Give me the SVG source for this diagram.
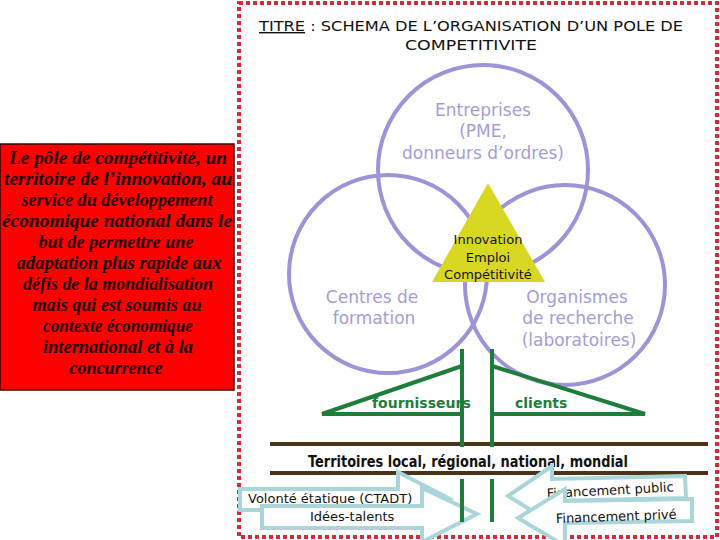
<svg xmlns="http://www.w3.org/2000/svg" width="720" height="540" viewBox="0 0 720 540">
<defs>
<style>
.ring{fill:none;stroke:#9d93d6;stroke-width:4}
.lav{font-family:"DejaVu Sans","Liberation Sans",sans-serif;font-size:17px;fill:#a39dd6;text-anchor:middle}
.tri{font-family:"DejaVu Sans","Liberation Sans",sans-serif;font-size:13px;fill:#111;text-anchor:middle}
.grn{stroke:#1f7d3c;stroke-width:4;fill:none}
.gtxt{font-family:"DejaVu Sans","Liberation Sans",sans-serif;font-size:14px;font-weight:bold;fill:#1f7d3c}
.brn{stroke:#4a3419;stroke-width:4}
.arr{fill:#fff;stroke:#aad6da;stroke-width:4;stroke-linejoin:miter}
.atxt{font-family:"DejaVu Sans","Liberation Sans",sans-serif;font-size:13px;fill:#111}
.red{font-family:"Liberation Serif","Times New Roman",serif;font-size:19px;font-weight:bold;font-style:italic;fill:#1a0000;text-anchor:middle}
</style>
</defs>
<rect width="720" height="540" fill="#fff"/>

<g id="frame">
<rect x="239" y="3" width="478" height="534" fill="none" stroke="#d42a3a" stroke-width="4" stroke-dasharray="4 3"/>
</g>

<g id="title">
<text x="259" y="31" font-family="DejaVu Sans, Liberation Sans, sans-serif" font-size="14" fill="#111" textLength="424" lengthAdjust="spacingAndGlyphs"><tspan text-decoration="underline">TITRE</tspan> : SCHEMA DE L’ORGANISATION D’UN POLE DE</text>
<text x="471" y="50" font-family="DejaVu Sans, Liberation Sans, sans-serif" font-size="14" fill="#111" text-anchor="middle" textLength="132" lengthAdjust="spacingAndGlyphs">COMPETITIVITE</text>
</g>

<g id="definition">
<rect x="0" y="144" width="234" height="246" fill="#ff0000" stroke="#3a0000" stroke-width="1.5"/>
<text class="red" x="118" y="164" textLength="218" lengthAdjust="spacingAndGlyphs">Le pôle de compétitivité, un</text>
<text class="red" x="118" y="185" textLength="228" lengthAdjust="spacingAndGlyphs">territoire de l’innovation, au</text>
<text class="red" x="117" y="206" textLength="191" lengthAdjust="spacingAndGlyphs">service du développement</text>
<text class="red" x="117" y="227" textLength="230" lengthAdjust="spacingAndGlyphs">économique national dans le</text>
<text class="red" x="116" y="248" textLength="155" lengthAdjust="spacingAndGlyphs">but de permettre une</text>
<text class="red" x="119" y="269" textLength="205" lengthAdjust="spacingAndGlyphs">adaptation plus rapide aux</text>
<text class="red" x="118" y="290" textLength="190" lengthAdjust="spacingAndGlyphs">défis de la mondialisation</text>
<text class="red" x="117" y="311" textLength="169" lengthAdjust="spacingAndGlyphs">mais qui est soumis au</text>
<text class="red" x="118" y="332" textLength="150" lengthAdjust="spacingAndGlyphs">contexte économique</text>
<text class="red" x="118" y="353" textLength="150" lengthAdjust="spacingAndGlyphs">international et à la</text>
<text class="red" x="116" y="374" textLength="93" lengthAdjust="spacingAndGlyphs">concurrence</text>
</g>

<g id="entreprises">
<circle class="ring" cx="483" cy="170" r="105"/>
<text class="lav" x="483" y="116">Entreprises</text>
<text class="lav" x="483" y="137">(PME,</text>
<text class="lav" x="483" y="159">donneurs d’ordres)</text>
</g>
<g id="formation">
<circle class="ring" cx="388" cy="274" r="99"/>
<text class="lav" x="372" y="303">Centres de</text>
<text class="lav" x="374" y="324">formation</text>
</g>
<g id="recherche">
<circle class="ring" cx="565" cy="285" r="100"/>
<text class="lav" x="577" y="303">Organismes</text>
<text class="lav" x="578" y="324">de recherche</text>
<text class="lav" x="579" y="346">(laboratoires)</text>
</g>

<g id="coeur">
<polygon points="488,183 432,282 545,282" fill="#d8d822"/>
<text class="tri" x="488" y="244">Innovation</text>
<text class="tri" x="488" y="262">Emploi</text>
<text class="tri" x="488" y="279">Compétitivité</text>
</g>

<g id="fournisseurs">
<text class="gtxt" x="372" y="408">fournisseurs</text>
</g>
<g id="clients">
<text class="gtxt" x="515" y="408">clients</text>
</g>

<g id="territoires">
<line class="brn" x1="270" y1="444" x2="708" y2="444"/>
<line class="brn" x1="270" y1="473" x2="708" y2="473"/>
<text x="468" y="467" font-family="DejaVu Sans, Liberation Sans, sans-serif" font-size="15" font-weight="bold" fill="#111" text-anchor="middle" textLength="320" lengthAdjust="spacingAndGlyphs">Territoires local, régional, national, mondial</text>
</g>

<g id="volonte">
<polygon class="arr" points="240,489 398,489 398,472 450,499 398,526 398,510 240,510"/>
<text class="atxt" x="248" y="503">Volonté étatique (CTADT)</text>
</g>
<g id="idees">
<polygon class="arr" points="262,506 422,506 422,488 477,514 422,542 422,528 262,528"/>
<text class="atxt" x="310" y="521">Idées-talents</text>
</g>
<g id="public">
<polygon class="arr" points="685,476 552,479 552,466 508,496 552,523 552,501 686,498"/>
<text class="atxt" x="547" y="498" transform="rotate(-3 547 498)">Financement public</text>
</g>
<g id="prive">
<polygon class="arr" points="692,499 565,501 565,489 518,518 565,546 565,523 692,521"/>
<text class="atxt" x="556" y="523" transform="rotate(-2 556 523)">Financement privé</text>
</g>

<g id="connectors">
<line class="grn" x1="462" y1="349" x2="462" y2="447"/>
<line class="grn" x1="492" y1="349" x2="492" y2="447"/>
<line class="grn" x1="462" y1="479" x2="462" y2="522"/>
<line class="grn" x1="492" y1="479" x2="492" y2="522"/>
<polyline class="grn" points="462,366 322,414 462,414"/>
<polyline class="grn" points="492,366 645,414 492,414"/>
</g>
</svg>
